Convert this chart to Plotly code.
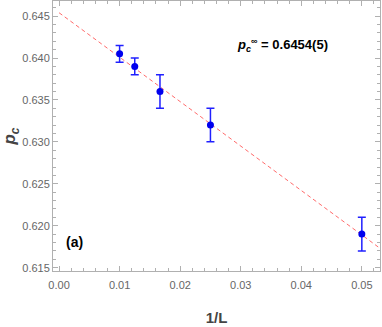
import plotly.graph_objects as go

# finite-size estimates of p_c vs 1/L
inv_L = [0.01, 0.0125, 1 / 60, 0.025, 0.05]
p_c = [0.6405, 0.639, 0.636, 0.632, 0.619]
p_err = [0.001, 0.001, 0.002, 0.002, 0.002]

# linear extrapolation
fit_intercept = 0.6454
fit_slope = -0.53
fit_x = [0.0, 0.0527]
fit_y = [fit_intercept + fit_slope * x for x in fit_x]

font_family = "Liberation Sans, Arial"
axis_color = "#b0b0b0"
tick_font = dict(family=font_family, size=11, color="#666666")

fig = go.Figure()

fig.add_trace(go.Scatter(
    x=fit_x, y=fit_y,
    mode="lines",
    line=dict(color="#ff6b6b", width=1, dash="4px,3px"),
    showlegend=False
))

fig.add_trace(go.Scatter(
    x=inv_L, y=p_c,
    mode="markers",
    marker=dict(color="#0000ee", size=7),
    error_y=dict(type="data", array=p_err, color="#2020ff", thickness=1.5, width=4),
    showlegend=False
))

axis_common = dict(
    showline=True, linecolor=axis_color, linewidth=1, mirror="ticks",
    ticks="inside", ticklen=5, tickcolor=axis_color,
    showgrid=False, zeroline=False, tickfont=tick_font, automargin=False,
)

fig.update_xaxes(
    range=[-0.001, 0.053], tick0=0, dtick=0.01, tickformat=".2f", ticklabelstandoff=4,
    minor=dict(ticks="inside", ticklen=3, tickcolor=axis_color, dtick=0.002, showgrid=False),
    title=dict(text="<b>1/L</b>", font=dict(family=font_family, size=15, color="#444444"), standoff=22),
    **axis_common
)
fig.update_yaxes(
    range=[0.6146, 0.6468], tick0=0.615, dtick=0.005, tickformat=".3f",
    minor=dict(ticks="inside", ticklen=3, tickcolor=axis_color, dtick=0.001, showgrid=False),
    title=dict(text="<b><i>p<sub>c</sub></i></b>", font=dict(family=font_family, size=17, color="#444444"), standoff=10),
    **axis_common
)

fig.add_annotation(
    x=0.0008, y=0.618, xref="x", yref="y", xanchor="left",
    text="<b>(a)</b>", showarrow=False,
    font=dict(family=font_family, size=14, color="black")
)
fig.add_annotation(
    x=0.0369, y=0.6415, xref="x", yref="y", xanchor="center",
    text="<b><i>p</i><sub><i>c</i></sub><sup>∞</sup> = 0.6454(5)</b>", showarrow=False,
    font=dict(family=font_family, size=13, color="black")
)

fig.update_layout(
    width=382, height=327,
    margin=dict(l=53, r=2, t=1, b=56),
    plot_bgcolor="white", paper_bgcolor="white",
)

# drop the default page margin so the figure sits at the window origin
fig.write_html("out.html", config={"displayModeBar": False},
               post_script="document.body.style.margin='0';")
